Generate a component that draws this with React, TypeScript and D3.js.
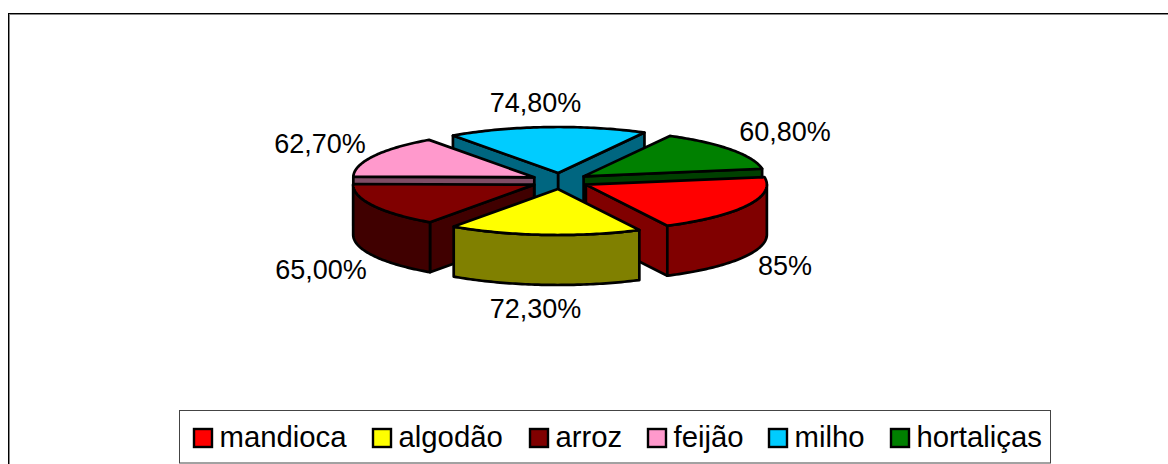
import React from "react";
import * as d3 from "d3";

const categories = ["mandioca", "algodão", "arroz", "feijão", "milho", "hortaliças"];
const values = [85, 72.3, 65, 62.7, 74.8, 60.8];
const valueLabels = ["85%", "72,30%", "65,00%", "62,70%", "74,80%", "60,80%"];
const topColors = ["#ff0000", "#ffff00", "#800000", "#ff99cc", "#00ccff", "#008000"];
const sideColors = ["#800000", "#808000", "#400000", "#804d66", "#006680", "#004000"];
const drawOrder = [4, 3, 5, 2, 0, 1];
const labelPos: [number, number][] = [[785, 275], [535.5, 318], [321, 279], [320, 153], [535.5, 112], [785, 141]];
const legendX = [194, 373, 530, 648, 769, 891];

const FONT = "'Liberation Sans', Arial, sans-serif";
const CX = 560, CY = 181, RX = 181, RY = 46, DEPTH = 50, EXPX = 29, EXPY = 8;
const start = (-9.5 * Math.PI) / 180;
const arcs = d3.pie<number>().sort(null).startAngle(start).endAngle(start + 2 * Math.PI)(values);
const line = d3.line<[number, number]>();

function range(a: number, b: number): number[] {
  return d3.range(0, 61).map((i) => a + ((b - a) * i) / 60);
}

function Slice({ i }: { i: number }) {
  const d = arcs[i];
  const mid = (d.startAngle + d.endAngle) / 2;
  const ax = CX + EXPX * Math.cos(mid);
  const ay = CY + EXPY * Math.sin(mid);
  const pt = (t: number, dz = 0): [number, number] => [ax + RX * Math.cos(t), ay + RY * Math.sin(t) + dz];
  const rim = range(d.startAngle, d.endAngle).map((t) => pt(t));
  const top = line([[ax, ay], ...rim])! + "Z";
  const face = (t: number) =>
    line([[ax, ay], pt(t), pt(t, DEPTH), [ax, ay + DEPTH]])! + "Z";
  const vis: number[][] = [[0, Math.PI], [2 * Math.PI, 3 * Math.PI], [-2 * Math.PI, -Math.PI]]
    .map(([a, b]) => [Math.max(a, d.startAngle), Math.min(b, d.endAngle)])
    .filter(([a, b]) => b > a);
  const stroke = { stroke: "#000", strokeWidth: 2.7, strokeLinejoin: "round" as const };
  return (
    <g>
      {Math.cos(d.startAngle) < 0 && <path d={face(d.startAngle)} fill={sideColors[i]} {...stroke} />}
      {Math.cos(d.endAngle) > 0 && <path d={face(d.endAngle)} fill={sideColors[i]} {...stroke} />}
      {vis.map(([a, b], k) => {
        const ts = range(a, b);
        return (
          <path
            key={k}
            d={line([...ts.map((t) => pt(t)), ...ts.slice().reverse().map((t) => pt(t, DEPTH))])! + "Z"}
            fill={sideColors[i]}
            {...stroke}
          />
        );
      })}
      <path d={top} fill={topColors[i]} {...stroke} />
    </g>
  );
}

export default function App() {
  return (
    <svg
      width={1168}
      height={464}
      style={{ position: "absolute", left: 0, top: 0, background: "#fff", display: "block" }}
      fontFamily={FONT}
    >
      <rect x={9.5} y={14.5} width={1170} height={470} fill="none" stroke="#888" strokeWidth={1} />
      <rect x={8.5} y={13.5} width={1170} height={470} fill="none" stroke="#000" strokeWidth={1} />
      {drawOrder.map((i) => (
        <Slice key={i} i={i} />
      ))}
      {valueLabels.map((t, i) => (
        <text key={t} x={labelPos[i][0]} y={labelPos[i][1]} textAnchor="middle" fontSize={27} fill="#000">
          {t}
        </text>
      ))}
      <rect x={179.5} y={410.5} width={871} height={52.5} fill="#fff" stroke="#444" strokeWidth={1} />
      {categories.map((c, i) => (
        <g key={c}>
          <rect x={legendX[i]} y={429} width={18} height={18} fill={topColors[i]} stroke="#000" strokeWidth={2.4} />
          <text x={legendX[i] + 25.5} y={447} fontSize={29.3} fill="#000">
            {c}
          </text>
        </g>
      ))}
    </svg>
  );
}
